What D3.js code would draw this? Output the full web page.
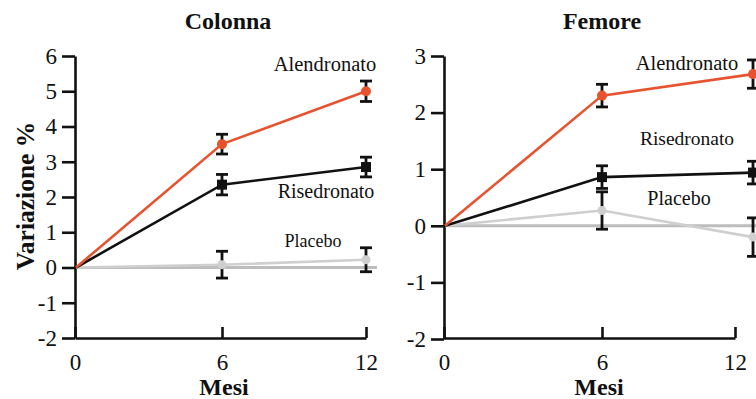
<!DOCTYPE html>
<html>
<head>
<meta charset="utf-8">
<script src="https://cdn.jsdelivr.net/npm/d3@7"></script>
<style>
  body { margin: 0; background: #fff; }
  svg { display: block; }
  .axis path, .axis line { stroke: #111; stroke-width: 2.6; }
  .title, .axis-label { font-weight: bold; fill: #111; }
  .series-label { fill: #111; }
</style>
</head>
<body>
<div id="chart"></div>
<script>
var width = 756,
  height = 399;
var serif = "'Liberation Serif'";

// mesi
var months = [0, 6, 12];
var xTicks = [0, 6, 12];

// Colonna
var colonnaTicks = [-2, -1, 0, 1, 2, 3, 4, 5, 6];
var colonnaAlendronato = [0, 3.5, 5.0];
var colonnaAlendronatoErr = [0, 0.28, 0.29];
var colonnaRisedronato = [0, 2.35, 2.85];
var colonnaRisedronatoErr = [0, 0.29, 0.28];
var colonnaPlacebo = [0, 0.08, 0.22];
var colonnaPlaceboErr = [0, 0.38, 0.34];

// Femore
var femoreTicks = [-2, -1, 0, 1, 2, 3];
var femoreAlendronato = [0, 2.3, 2.68];
var femoreAlendronatoErr = [0, 0.2, 0.25];
var femoreRisedronato = [0, 0.86, 0.94];
var femoreRisedronatoErr = [0, 0.2, 0.2];
var femorePlacebo = [0, 0.27, -0.2];
var femorePlaceboErr = [0, 0.33, 0.34];

var seriesNames = ["Alendronato", "Risedronato", "Placebo"];
var orange = "#e8532f";

var svg = d3.select("#chart").append("svg")
  .attr("width", width)
  .attr("height", height)
  .style("font-family", serif);

function fmt(d) { return String(d); }

function renderPanel(p) {
  var g = svg.append("g");

  // the right panel's 12-month points sit past the end of its axis
  var x = d3.scaleLinear().domain([0, 6, 12]).range(p.xRange);
  var xAxisScale = d3.scaleLinear().domain([0, 6, 12]).range(p.xAxisRange);
  var y = d3.scaleLinear().domain(d3.extent(p.yTicks)).range(p.yRange);

  g.append("g")
    .attr("class", "axis")
    .attr("transform", "translate(" + p.xAxisRange[0] + ",0)")
    .call(d3.axisLeft(y).tickValues(p.yTicks).tickFormat(fmt)
      .tickSizeInner(13).tickSizeOuter(0).tickPadding(5))
    .attr("font-family", serif)
    .attr("font-size", 23)
    .selectAll("text").attr("fill", "#111");

  g.append("g")
    .attr("class", "axis")
    .attr("transform", "translate(0,338)")
    .call(d3.axisBottom(xAxisScale).tickValues(xTicks).tickFormat(fmt)
      .tickSizeInner(-11).tickSizeOuter(0).tickPadding(16))
    .attr("font-family", serif)
    .attr("font-size", 23)
    .selectAll("text").attr("fill", "#111");

  // zero line
  g.append("line")
    .attr("x1", x(0)).attr("x2", p.zeroEnd)
    .attr("y1", y(0)).attr("y2", y(0))
    .attr("stroke", "#bdbdbd")
    .attr("stroke-width", 3);

  var line = d3.line()
    .x(function(d) { return x(d.m); })
    .y(function(d) { return y(d.v); });

  p.series.forEach(function(s) {
    var pts = months.map(function(m, i) { return {m: m, v: s.values[i], e: s.err[i]}; });

    g.append("path")
      .datum(pts)
      .attr("fill", "none")
      .attr("stroke", s.color)
      .attr("stroke-width", 2.6)
      .attr("d", line);

    var bars = g.selectAll(null)
      .data(pts.filter(function(d) { return d.m > 0; }))
      .enter().append("g")
      .attr("stroke", "#111")
      .attr("stroke-width", 2.8);

    bars.append("line")
      .attr("x1", function(d) { return x(d.m); })
      .attr("x2", function(d) { return x(d.m); })
      .attr("y1", function(d) { return y(d.v + d.e); })
      .attr("y2", function(d) { return y(d.v - d.e); });
    bars.append("line")
      .attr("x1", function(d) { return x(d.m) - 6; })
      .attr("x2", function(d) { return x(d.m) + 6; })
      .attr("y1", function(d) { return y(d.v + d.e); })
      .attr("y2", function(d) { return y(d.v + d.e); });
    bars.append("line")
      .attr("x1", function(d) { return x(d.m) - 6; })
      .attr("x2", function(d) { return x(d.m) + 6; })
      .attr("y1", function(d) { return y(d.v - d.e); })
      .attr("y2", function(d) { return y(d.v - d.e); });

    var marks = pts.filter(function(d) { return d.m > 0; });
    if (s.shape == "square") {
      g.selectAll(null).data(marks).enter().append("rect")
        .attr("x", function(d) { return x(d.m) - 5; })
        .attr("y", function(d) { return y(d.v) - 5; })
        .attr("width", 10).attr("height", 10)
        .attr("fill", s.color);
    } else {
      g.selectAll(null).data(marks).enter().append("circle")
        .attr("cx", function(d) { return x(d.m); })
        .attr("cy", function(d) { return y(d.v); })
        .attr("r", s.r)
        .attr("fill", s.color);
    }
  });

  p.labels.forEach(function(l, i) {
    g.append("text")
      .attr("class", "series-label")
      .attr("x", l[0]).attr("y", l[1])
      .attr("text-anchor", "middle")
      .style("font-size", l[2] + "px")
      .text(seriesNames[i]);
  });

  g.append("text")
    .attr("class", "title")
    .attr("x", p.titleX).attr("y", 29)
    .attr("text-anchor", "middle")
    .style("font-size", "24px")
    .text(p.title);

  g.append("text")
    .attr("class", "axis-label")
    .attr("x", p.mesiX).attr("y", 395)
    .attr("text-anchor", "middle")
    .style("font-size", "24px")
    .text("Mesi");
}

renderPanel({
  title: "Colonna", titleX: 228, mesiX: 224,
  xRange: [76, 222, 366], xAxisRange: [75, 222, 366], yRange: [338, 56], zeroEnd: 377,
  yTicks: colonnaTicks,
  series: [
    {values: colonnaPlacebo, err: colonnaPlaceboErr, color: "#cfcfcf", r: 4.5},
    {values: colonnaRisedronato, err: colonnaRisedronatoErr, color: "#111", shape: "square"},
    {values: colonnaAlendronato, err: colonnaAlendronatoErr, color: orange, r: 5}
  ],
  labels: [[325, 71, 20.5], [326, 198, 20], [313, 247, 18]]
});

renderPanel({
  title: "Femore", titleX: 602, mesiX: 599,
  xRange: [445, 602, 753], xAxisRange: [444, 602, 735], yRange: [339, 56], zeroEnd: 756,
  yTicks: femoreTicks,
  series: [
    {values: femorePlacebo, err: femorePlaceboErr, color: "#cfcfcf", r: 4.5},
    {values: femoreRisedronato, err: femoreRisedronatoErr, color: "#111", shape: "square"},
    {values: femoreAlendronato, err: femoreAlendronatoErr, color: orange, r: 5}
  ],
  labels: [[687, 70, 20.5], [687, 145, 19.5], [679, 205, 20]]
});

svg.append("text")
  .attr("class", "axis-label")
  .attr("transform", "translate(34,196) rotate(-90)")
  .attr("text-anchor", "middle")
  .style("font-size", "25.5px")
  .text("Variazione %");
</script>
</body>
</html>
